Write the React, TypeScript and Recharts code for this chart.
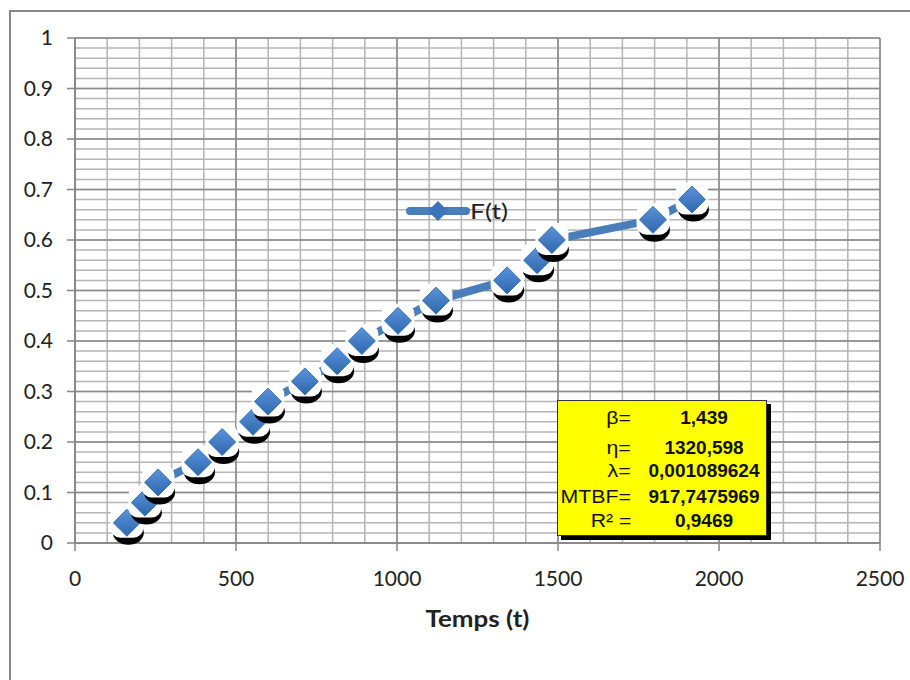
import React from "react";
import {
  LineChart,
  Line,
  XAxis,
  YAxis,
  CartesianGrid,
} from "recharts";

// temps (t) et F(t)
const temps = [161, 217, 258, 382, 457, 553, 599, 714, 814, 891, 1003, 1121, 1342, 1435, 1481, 1795, 1916];
const fValues = [0.04, 0.08, 0.12, 0.16, 0.2, 0.24, 0.28, 0.32, 0.36, 0.4, 0.44, 0.48, 0.52, 0.56, 0.6, 0.64, 0.68];

const xTicks = [0, 500, 1000, 1500, 2000, 2500];
const yTicks = [0, 0.1, 0.2, 0.3, 0.4, 0.5, 0.6, 0.7, 0.8, 0.9, 1];
const xMinor = Array.from({ length: 26 }, (_, i) => i * 100);
const yMinor = Array.from({ length: 51 }, (_, i) => i / 50);

const paramLabels = ["β=", "η=", "λ=", "MTBF=", "R² ="];
const paramValues = ["1,439", "1320,598", "0,001089624", "917,7475969", "0,9469"];
const rowTops = [17, 47, 70, 96, 120];

const data = temps.map((t, i) => ({ t, F: fValues[i] }));

const FONT = "Lato, 'Open Sans', sans-serif";

function Diamond(props: any) {
  const { cx, cy, index } = props;
  if (cx == null || cy == null) return null;
  const s = 13.5;
  return (
    <g key={index}>
      <ellipse cx={cx + 1.5} cy={cy + 10} rx={15.5} ry={12} fill="#000" />
      <rect x={cx - 16.5} y={cy - 17} width={33} height={32} rx={10} fill="#fff" />
      <path
        d={`M${cx},${cy - s} L${cx + s},${cy} L${cx},${cy + s} L${cx - s},${cy} Z`}
        fill="url(#markerGrad)"
        stroke="#3b73b9"
        strokeWidth={1}
      />
    </g>
  );
}

function AxisTitle(props: any) {
  const vb = props.viewBox || {};
  const x = vb.x + vb.width / 2;
  const y = 627;
  return (
    <text
      transform={`translate(${x},${y}) scale(1.18,1)`}
      textAnchor="middle"
      fontSize={22}
      fontWeight={700}
      fill="#222"
      fontFamily={FONT}
    >
      Temps (t)
    </text>
  );
}

export default function App() {
  return (
    <div style={{ position: "absolute", left: 0, top: 0, width: 910, height: 680, background: "#fff", overflow: "hidden" }}>
      <div
        style={{
          position: "absolute",
          left: 9,
          top: 10,
          width: 920,
          height: 700,
          borderLeft: "2px solid #878787",
          borderTop: "2px solid #878787",
        }}
      />
      <LineChart
        width={910}
        height={680}
        data={data}
        margin={{ top: 38, right: 30, left: 15, bottom: 47 }}
        style={{ position: "absolute", left: 0, top: 0 }}
      >
        <defs>
          <linearGradient id="markerGrad" x1="0" y1="0" x2="0" y2="1">
            <stop offset="0%" stopColor="#5b93db" />
            <stop offset="100%" stopColor="#2f67ad" />
          </linearGradient>
        </defs>
        <CartesianGrid
          horizontalValues={yMinor}
          verticalValues={xMinor}
          stroke="#b5b5b5"
          strokeWidth={1.5}
        />
        <CartesianGrid
          horizontalValues={yTicks}
          verticalValues={xTicks}
          stroke="#8a8a8a"
          strokeWidth={1.5}
        />
        <XAxis
          dataKey="t"
          type="number"
          domain={[0, 2500]}
          ticks={xTicks}
          interval={0}
          height={90}
          tickSize={8}
          tickMargin={20}
          stroke="#868686"
          strokeWidth={1.5}
          tick={{ fontSize: 21, fill: "#222", fontFamily: FONT }}
          label={<AxisTitle />}
        />
        <YAxis
          type="number"
          domain={[0, 1]}
          ticks={yTicks}
          interval={0}
          width={60}
          tickSize={8}
          tickMargin={14}
          stroke="#868686"
          strokeWidth={1.5}
          tick={{ fontSize: 21, fill: "#222", fontFamily: FONT }}
        />
        <Line
          dataKey="F"
          stroke="#4a7ebb"
          strokeWidth={8}
          dot={Diamond}
          activeDot={false}
          isAnimationActive={false}
        />
      </LineChart>
      <div
        style={{
          position: "absolute",
          left: 404,
          top: 197,
          display: "flex",
          alignItems: "center",
          fontFamily: FONT,
          fontSize: 22,
          color: "#222",
        }}
      >
        <svg width={66} height={24}>
          <line x1={6} y1={12} x2={62} y2={12} stroke="#4a7ebb" strokeWidth={8} strokeLinecap="round" />
          <path d="M34,2 L44,12 L34,22 L24,12 Z" fill="#3b73b9" />
        </svg>
        <span style={{ display: "inline-block", transform: "scaleX(1.2)", transformOrigin: "left center" }}>F(t)</span>
      </div>
      <div
        style={{
          position: "absolute",
          left: 557,
          top: 400,
          width: 210,
          height: 136,
          background: "#ffff00",
          border: "1px solid #333",
          boxShadow: "4px 4px 0 #000",
          fontFamily: "'Liberation Sans', Arial, sans-serif",
          fontSize: 19,
          color: "#111",
          boxSizing: "border-box",
        }}
      >
        {paramLabels.map((lab, i) => (
          <React.Fragment key={lab}>
            <span
              style={{
                position: "absolute",
                right: 210 - 75,
                top: rowTops[i] - 11,
                lineHeight: "22px",
                whiteSpace: "nowrap",
                transform: "scaleX(1.12)",
                transformOrigin: "right center",
              }}
            >
              {lab}
            </span>
            <span
              style={{
                position: "absolute",
                left: 146,
                top: rowTops[i] - 11,
                lineHeight: "22px",
                fontWeight: 700,
                whiteSpace: "nowrap",
                transform: "translateX(-50%)",
              }}
            >
              {paramValues[i]}
            </span>
          </React.Fragment>
        ))}
      </div>
    </div>
  );
}
